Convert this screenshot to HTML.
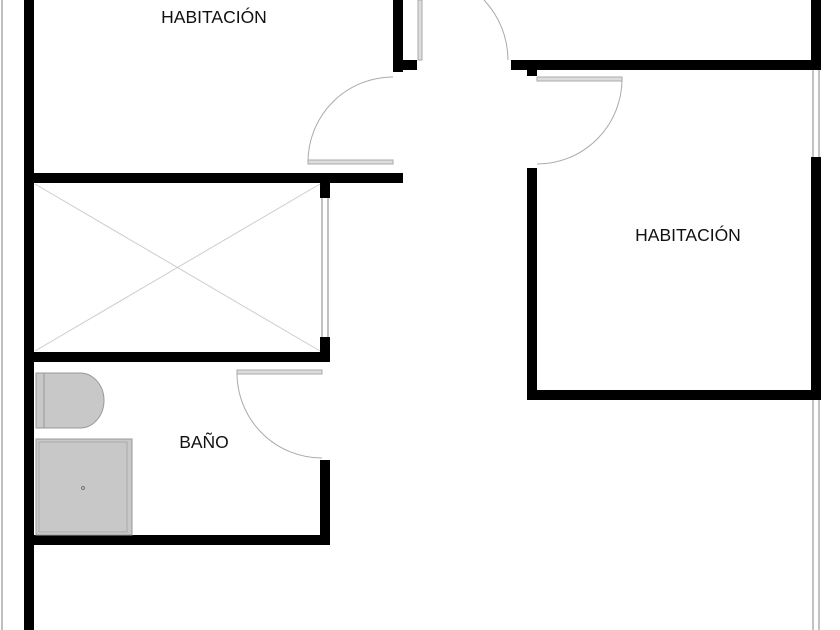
<!DOCTYPE html>
<html><head><meta charset="utf-8"><style>
html,body{margin:0;padding:0;background:#fff;width:840px;height:630px;overflow:hidden}
svg{display:block}
text{font-family:"Liberation Sans",sans-serif;font-size:17.5px;fill:#111}
</style></head><body>
<svg width="840" height="630" viewBox="0 0 840 630" xmlns="http://www.w3.org/2000/svg">
<rect width="840" height="630" fill="#fff"/>
<line x1="2" y1="0" x2="2" y2="630" stroke="#aaa" stroke-width="1.5"/>
<g fill="#000">
<rect x="24" y="0" width="10" height="630"/>
<rect x="24" y="173" width="379" height="10"/>
<rect x="24" y="352" width="306" height="10"/>
<rect x="320" y="183" width="10" height="15"/>
<rect x="320" y="337" width="10" height="25"/>
<rect x="24" y="535" width="306" height="10"/>
<rect x="320" y="460" width="10" height="85"/>
<rect x="393" y="0" width="10" height="72"/>
<rect x="393" y="60" width="24" height="10"/>
<rect x="511" y="60" width="310" height="10"/>
<rect x="527" y="70" width="10" height="6"/>
<rect x="527" y="168" width="10" height="232"/>
<rect x="527" y="390" width="294" height="10"/>
<rect x="811" y="0" width="10" height="70"/>
<rect x="811" y="157" width="10" height="243"/>
</g>
<g stroke="#999" stroke-width="1.2" fill="none">
<line x1="813" y1="70" x2="813" y2="157"/><line x1="819" y1="70" x2="819" y2="157"/>
<line x1="813" y1="400" x2="813" y2="630"/><line x1="819" y1="400" x2="819" y2="630"/>
<line x1="322" y1="198" x2="322" y2="337"/><line x1="328" y1="198" x2="328" y2="337"/>
</g>
<g stroke="#ccc" stroke-width="1">
<line x1="35" y1="184" x2="320" y2="351"/><line x1="35" y1="351" x2="320" y2="184"/>
</g>
<g stroke="#aaa" stroke-width="1" fill="none">
<rect x="418" y="0" width="4" height="60" fill="#ddd"/>
<path d="M484 0 A88 88 0 0 1 508 60"/>
<rect x="308" y="160" width="85" height="4" fill="#ddd"/>
<path d="M393 77 A85 85 0 0 0 308 162"/>
<rect x="537" y="77" width="85" height="4" fill="#ddd"/>
<path d="M622 79 A85 85 0 0 1 537 164"/>
<rect x="237" y="370" width="85" height="4" fill="#ddd"/>
<path d="M237 372 A85 85 0 0 0 322 458"/>
</g>
<path d="M36 373 H80 A24 27.5 0 0 1 80 428 H36 Z" fill="#c8c8c8" stroke="#999"/>
<path d="M44 373 V428" stroke="#999" fill="none"/>
<rect x="36" y="439" width="96" height="96" fill="#c8c8c8" stroke="#999"/>
<rect x="39" y="442" width="88" height="90" fill="none" stroke="#aaa"/>
<circle cx="83" cy="488" r="1.5" fill="none" stroke="#777"/>
<text x="214" y="23" text-anchor="middle">HABITACIÓN</text>
<text x="688" y="241" text-anchor="middle">HABITACIÓN</text>
<text x="204" y="448" text-anchor="middle">BAÑO</text>
</svg>
</body></html>
